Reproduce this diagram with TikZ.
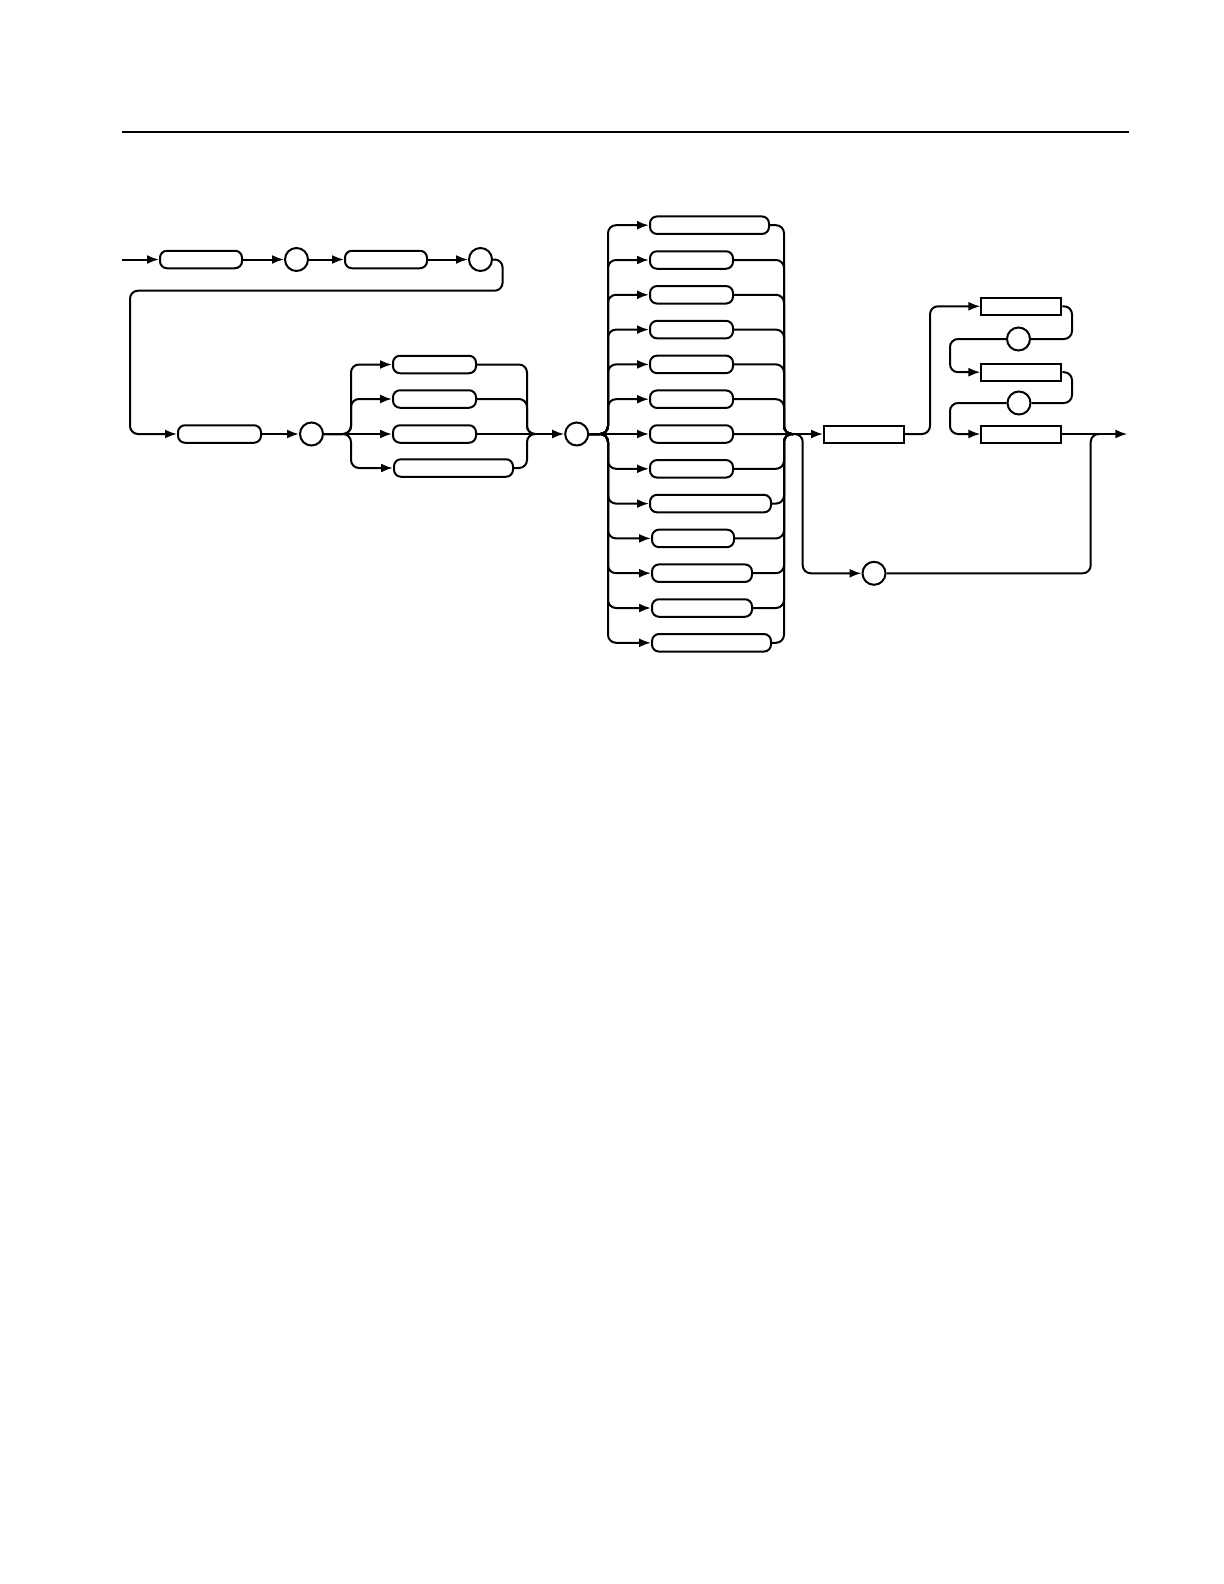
\documentclass[tikz,border=0pt]{standalone}
\usepackage{tikz}
\usetikzlibrary {arrows.meta}

\begin{document}
\begin{tikzpicture}[x=0.5pt, y=-0.5pt,
    term/.style={draw, line width=1pt, rounded corners=3.5pt, minimum height=8.75pt, inner sep=0pt},
    nterm/.style={draw, line width=1pt, minimum height=8.5pt, minimum width=40pt, inner sep=0pt},
    sym/.style={circle, draw, line width=1pt, minimum size=11.5pt, inner sep=0pt},
    rail/.style={line width=1pt, rounded corners=4pt},
    arr/.style={rail, -{Latex[length=6pt, width=4.5pt]}}]
    \useasboundingbox (0, 0) rectangle (1224, 1584);

    %Rule
    \draw[line width=0.65pt] (122, 132) -- (1129, 132);

    %Nodes
    \coordinate (start) at (121.7, 259.5);
    \node[term, minimum width=41pt] at (201, 259.5) (t1) {};
    \node[sym] at (296.5, 259.5) (c1) {};
    \node[term, minimum width=41pt] at (386, 259.5) (t2) {};
    \node[sym] at (480.5, 259.5) (c2) {};
    \coordinate (r1) at (502.6, 290.7);
    \coordinate (r2) at (130, 290.7);

    \node[term, minimum width=41.5pt] at (219.5, 434) (t3) {};
    \node[sym] at (311.5, 434) (c3) {};
    \coordinate (sA) at (351, 434);
    \node[term, minimum width=41.5pt] at (434.5, 364.5) (a1) {};
    \node[term, minimum width=41.5pt] at (434.5, 399) (a2) {};
    \node[term, minimum width=41.5pt] at (434.5, 434) (a3) {};
    \node[term, minimum width=59.5pt] at (453.5, 468) (a4) {};
    \coordinate (mA) at (527, 434);
    \coordinate (jA) at (535, 434);
    \node[sym] at (576.7, 434) (c4) {};

    \coordinate (sB) at (608, 434);
    \foreach \i/\l/\w in {1/649/121, 2/649/85, 3/649/85, 4/649/85, 5/649/85, 6/649/85, 7/649/85,
        8/649/85, 9/649/123, 10/651/84, 11/651/102, 12/651/102, 13/651/121}
        \node[term, anchor=west, minimum width=\w*0.5pt-1pt] at (\l, {434+(\i-7)*34.8}) (b\i) {};
    \coordinate (mB) at (784, 434);
    \coordinate (jB) at (793, 434);
    \coordinate (kB) at (802.7, 434);

    \node[nterm] at (864, 434) (nt1) {};
    \coordinate (u1) at (930, 306.3);
    \node[nterm] at (1021.4, 306.3) (nt2) {};
    \coordinate (u2) at (1072, 339);
    \node[sym] at (1018.5, 339) (c5) {};
    \coordinate (u3) at (950, 372.2);
    \node[nterm] at (1021.4, 372.2) (nt3) {};
    \coordinate (u4) at (1072, 403);
    \node[sym] at (1019, 403) (c6) {};
    \coordinate (u5) at (950, 434);
    \node[nterm] at (1021.4, 434) (nt4) {};

    \node[sym] at (874, 573.3) (c7) {};
    \coordinate (kE) at (1090.7, 434);
    \coordinate (jE) at (1100, 434);
    \coordinate (fin) at (1127.3, 434);

    %Lines
    \draw[arr] (start) -- (t1.west);
    \draw[arr] (t1.east) -- (c1.west);
    \draw[arr] (c1.east) -- (t2.west);
    \draw[arr] (t2.east) -- (c2.west);
    \draw[arr] (c2.east) -| (r1) -- (r2) |- (t3.west);
    \draw[arr] (t3.east) -- (c3.west);

    \draw[arr] (c3.east) -- (a3.west);
    \draw[arr] (a3.east) -- (c4.west);
    \foreach \i in {1, 2, 4} {
        \draw[arr] (c3.east) -- (sA) |- (a\i.west);
        \draw[rail] (a\i.east) -| (mA) -- (jA);
    }

    \draw[arr] (c4.east) -- (b7.west);
    \foreach \i in {1, 2, 3, 4, 5, 6, 8, 9, 10, 11, 12, 13} {
        \draw[arr] (c4.east) -- (sB) |- (b\i.west);
        \draw[rail] (b\i.east) -| (mB) -- (jB);
    }

    \draw[arr] (b7.east) -- (nt1.west);
    \draw[arr] (nt1.east) -| (u1) -- (nt2.west);
    \draw[rail] (nt2.east) -| (u2) -- (c5.east);
    \draw[arr] (c5.west) -| (u3) -- (nt3.west);
    \draw[rail] (nt3.east) -| (u4) -- (c6.east);
    \draw[arr] (c6.west) -| (u5) -- (nt4.west);
    \draw[arr] (nt4.east) -- (fin);

    \draw[arr] (b7.east) -- (kB) |- (c7.west);
    \draw[rail] (c7.east) -| (kE) -- (jE);

\end{tikzpicture}
\end{document}
